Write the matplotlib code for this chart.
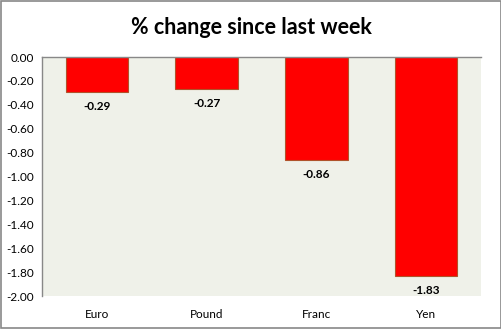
import matplotlib
matplotlib.use("Agg")
import matplotlib.pyplot as plt
from matplotlib.patches import Rectangle

# data
currencies = ["Euro", "Pound", "Franc", "Yen"]
pct_change = [-0.29, -0.27, -0.86, -1.83]
y_ticks = [0.0, -0.2, -0.4, -0.6, -0.8, -1.0, -1.2, -1.4, -1.6, -1.8, -2.0]

plt.rcParams["font.family"] = ["Lato", "DejaVu Sans"]

fig = plt.figure(figsize=(5.02, 3.29), dpi=100)
ax = fig.add_axes([0.0837, 0.1003, 0.8745, 0.7264])
ax.set_facecolor("#EFF1E9")

# grey frame around the whole picture
fig.patches.append(Rectangle((0.001, 0.002), 0.997, 0.995, transform=fig.transFigure,
                             fill=False, edgecolor="#888888", linewidth=1.2))

x = range(len(currencies))
bars = ax.bar(x, pct_change, width=0.57, color="#FF0000", edgecolor="#B0522A", linewidth=0.8)

for xi, v in zip(x, pct_change):
    ax.text(xi, v - 0.075, f"{v:.2f}", ha="center", va="top", fontsize=8.5, fontweight="bold")

ax.set_xlim(-0.5, len(currencies) - 0.5)
ax.set_ylim(-2.0, 0.0)
ax.set_yticks(y_ticks)
ax.set_yticklabels([f"{t:.2f}" for t in y_ticks])
ax.set_xticks(list(x))
ax.set_xticklabels(currencies)
ax.tick_params(axis="both", length=0, labelsize=8.5, colors="black")
ax.tick_params(axis="x", pad=9)
ax.tick_params(axis="y", pad=6)

for side in ["right", "bottom"]:
    ax.spines[side].set_visible(False)
for side in ["left", "top"]:
    ax.spines[side].set_color("#888888")
    ax.spines[side].set_linewidth(1.0)

fig.text(0.5, 0.915, "% change since last week", ha="center", va="center",
         fontsize=15.5, fontweight="bold")

fig.savefig("out.png", dpi=100)
